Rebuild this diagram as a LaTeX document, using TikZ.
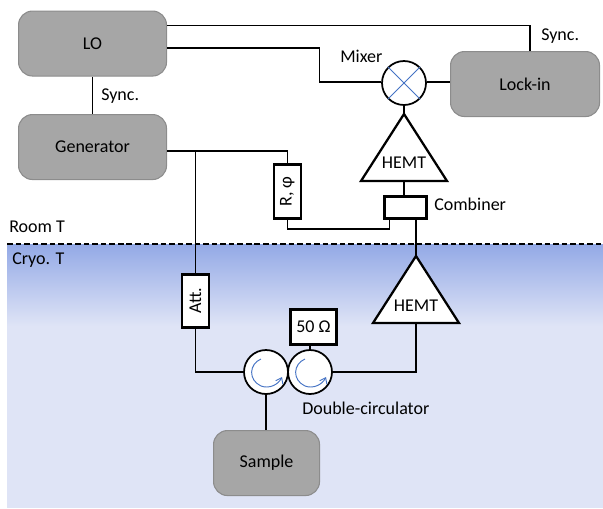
\documentclass[tikz,border=0pt]{standalone}
\usepackage{fontspec}
\setmainfont{Carlito}
\usetikzlibrary{arrows.meta,calc}
\definecolor{boxgray}{HTML}{A6A6A6}
\definecolor{boxedge}{HTML}{8C8C8C}
\definecolor{cryotop}{HTML}{93A9E6}
\definecolor{cryomid}{HTML}{B6C4EE}
\definecolor{cryobot}{HTML}{DFE4F6}
\definecolor{xblue}{HTML}{4472C4}
\newcommand{\txtsize}{\fontsize{13.5}{16}\selectfont}
\tikzset{
  grayblock/.style={draw=boxedge,fill=boxgray,line width=0.8pt,rounded corners=10.5pt,anchor=north west,inner sep=0pt,font=\txtsize},
  wire/.style={line width=1.1pt,line join=miter},
  thickbox/.style={draw,fill=white,line width=2.1pt,anchor=north west,inner sep=0pt,font=\txtsize},
  ringnode/.style={circle,draw,fill=white,line width=1.3pt,minimum size=33pt,inner sep=0pt},
  amp/.style={draw,fill=white,line width=1.7pt,line join=miter},
  lbl/.style={font=\txtsize,inner sep=0pt,anchor=west},
  vlbl/.style={font=\txtsize,inner sep=0pt,rotate=90},
  swirl/.style={draw=xblue,line width=0.7pt,-{Straight Barb[length=4pt,width=6pt]}},
  crossline/.style={draw=xblue,line width=0.7pt}
}
\begin{document}
\begin{tikzpicture}[x=0.75pt,y=-0.75pt]
\useasboundingbox (0,0) rectangle (603,508);
% cryo background
\shade[top color=cryotop,middle color=cryomid,bottom color=cryobot] (7,244) rectangle (603,326);
\fill[cryobot] (7,325.5) rectangle (603,508);
\draw[line width=1.1pt,dash pattern=on 4.2pt off 2.2pt] (7,244) -- (603,244);

% blocks
\node[grayblock,minimum width=148*0.75pt,minimum height=65*0.75pt] (lo) at (18,10.5) {LO};
\node[grayblock,minimum width=148*0.75pt,minimum height=65*0.75pt] (gen) at (18,114) {Generator};
\node[grayblock,minimum width=149*0.75pt,minimum height=65*0.75pt] (lock) at (450,51) {Lock-in};
\node[grayblock,minimum width=106*0.75pt,minimum height=65*0.75pt] (sample) at (213,430) {Sample};

% thick boxes
\node[thickbox,minimum width=27*0.75pt,minimum height=54*0.75pt] (rphi) at (272.5,163) {};
\node[vlbl] at (rphi.center) {R, φ};
\node[thickbox,minimum width=27*0.75pt,minimum height=53*0.75pt] (att) at (180.5,273) {};
\node[vlbl] at (att.center) {Att.};
\node[thickbox,minimum width=46*0.75pt,minimum height=35*0.75pt] (fifty) at (289,308) {50 Ω};
\node[thickbox,minimum width=42*0.75pt,minimum height=22*0.75pt] (comb) at (383,195) {};

% rings
\node[ringnode] (mix) at (404,83) {};
\node[ringnode] (cl) at (266,372) {};
\node[ringnode] (cr) at (310,372) {};

% amplifier corners
\coordinate (upA) at (404,114);
\coordinate (upB) at (404,181);
\coordinate (loA) at (416,256);
\coordinate (loB) at (416,323);
\draw[amp] (upA) -- (361,181) -- (447,181) -- cycle;
\draw[amp] (loA) -- (373,323) -- (459,323) -- cycle;
\node[font=\txtsize,inner sep=0pt] (hemt1) at (404,163) {HEMT};
\node[font=\txtsize,inner sep=0pt] (hemt2) at (416,306) {HEMT};

% connectors
\draw[wire] (lo.east |- 0,25.5) -- (530,25.5) -- (lock.north -| 530,0);
\draw[wire] (lo.east |- 0,48) -- (319.5,48) -- (319.5,82) -- (mix.west |- 0,82);
\draw[wire] (mix.east |- 0,82) -- (lock.west |- 0,82);
\draw[wire] (mix.south) -- (upA);
\draw[wire] (lo.south -| 92.5,0) -- (gen.north -| 92.5,0);
\draw[wire] (gen.east |- 0,151) -- (rphi.north |- 0,151) -- (rphi.north);
\draw[wire] (att.north |- 0,151) -- (att.north);
\draw[wire] (rphi.south) -- (rphi.south |- 0,229) -- (389.5,229) -- (comb.south -| 389.5,0);
\draw[wire] (upB) -- (comb.north -| upB);
\draw[wire] (comb.south -| loA) -- (loA);
\draw[wire] (att.south) -- (att.south |- 0,372) -- (cl.west);
\draw[wire] (cr.east) -- (416,372) -- (loB);
\draw[wire] (fifty.south -| cr.north) -- (cr.north);
\draw[wire] (cl.south) -- (cl.south |- sample.north);

% mixer cross
\draw[crossline] (mix.north west) -- (mix.south east);
\draw[crossline] (mix.north east) -- (mix.south west);

% circulator arcs
\draw[swirl] ($(cl)+(-5,-13)$) .. controls ($(cl)+(-17,-8)$) and ($(cl)+(-18,8)$) .. ($(cl)+(-5,14)$) .. controls ($(cl)+(3,17)$) and ($(cl)+(12,13)$) .. ($(cl)+(16,5)$);
\draw[swirl] ($(cr)+(-5,-13)$) .. controls ($(cr)+(-17,-8)$) and ($(cr)+(-18,8)$) .. ($(cr)+(-5,14)$) .. controls ($(cr)+(3,17)$) and ($(cr)+(12,13)$) .. ($(cr)+(16,5)$);

% labels
\node[lbl] (sync1) at (101,96) {Sync.};
\node[lbl] (sync2) at (541,36) {Sync.};
\node[lbl] (mixer) at (340,56) {Mixer};
\node[lbl] (combl) at (434,204) {Combiner};
\node[lbl] (room) at (9,227) {Room T};
\node[lbl] (cryo) at (12,260) {Cryo. T};
\node[lbl] (dbl) at (302,408) {Double-circulator};
\end{tikzpicture}
\end{document}
